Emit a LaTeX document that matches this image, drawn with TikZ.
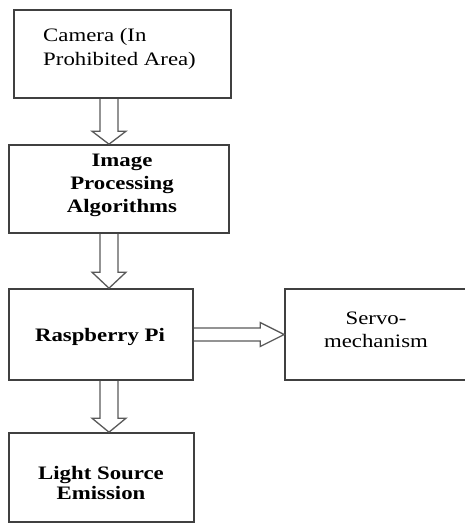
\documentclass[tikz,border=0pt]{standalone}
\usepackage{fontspec}
\setmainfont{Liberation Serif}
\usetikzlibrary{calc}
\newcommand\vholarrow[3]{% start, end, head length
  \draw[harrow] let \p1=(#1), \p2=(#2) in
    (\x1-9pt,\y1) -- (\x1-9pt,\y2+#3) -- (\x1-17pt,\y2+#3) -- (\x1,\y2)
    -- (\x1+17pt,\y2+#3) -- (\x1+9pt,\y2+#3) -- (\x1+9pt,\y1);}
\newcommand\hholarrow[3]{%
  \draw[harrow] let \p1=(#1), \p2=(#2) in
    (\x1,\y1+6.5pt) -- (\x2-#3,\y1+6.5pt) -- (\x2-#3,\y1+12pt) -- (\x2,\y1)
    -- (\x2-#3,\y1-12pt) -- (\x2-#3,\y1-6.5pt) -- (\x1,\y1-6.5pt);}
\begin{document}
\begin{tikzpicture}[x=1pt,y=-1pt,
  box/.style={draw=black!75, line width=1.6pt, inner sep=0pt},
  harrow/.style={draw=black!65, line width=1.3pt, line join=miter},
  txt/.style={inner sep=0pt, text=black, xscale=1.2, transform shape},
  lbl/.style={txt, font=\fontsize{19}{23}\selectfont}
]
\useasboundingbox (0,0) rectangle (464,523);
% boxes
\node[box, minimum width=217pt, minimum height=88pt] (cam) at (122.5,54) {};
\node[box, minimum width=220pt, minimum height=88pt] (img) at (119,189) {};
\node[box, minimum width=184pt, minimum height=91pt] (rpi) at (101,334.5) {};
\node[box, minimum width=190pt, minimum height=91pt] (servo) at (380,334.5) {};
\node[box, minimum width=185pt, minimum height=89pt] (light) at (101.5,477.5) {};
% texts
\node[txt, font=\fontsize{19}{24}\selectfont, align=left, anchor=west] (tcam) at (43,49) {Camera (In\\Prohibited Area)};
\node[lbl, font=\bfseries\fontsize{19}{23}\selectfont, align=center] (timg) at (122,185) {Image\\Processing\\Algorithms};
\node[lbl, font=\bfseries\fontsize{19}{23}\selectfont] (trpi) at (100,337) {Raspberry Pi};
\node[lbl, align=center] (tservo) at (376,330) {Servo-\\mechanism};
\node[lbl, font=\bfseries\fontsize{19}{20.6}\selectfont, align=center] (tlight) at (101,483) {Light Source\\Emission};
% arrows
\coordinate (ax) at (109,0);
\vholarrow{cam.south -| ax}{img.north -| ax}{13pt}
\vholarrow{img.south -| ax}{rpi.north -| ax}{16pt}
\vholarrow{rpi.south -| ax}{light.north -| ax}{14pt}
\hholarrow{rpi.east}{servo.west}{24pt}
\end{tikzpicture}
\end{document}
